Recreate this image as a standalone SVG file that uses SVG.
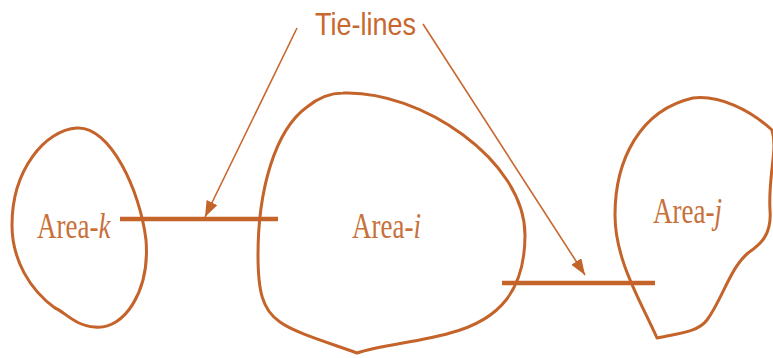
<svg xmlns="http://www.w3.org/2000/svg" width="773" height="358" viewBox="0 0 773 358">
<style>
.blob{fill:none;stroke:#c4632a;stroke-width:3;stroke-linejoin:round}
.tie{stroke:#c4632a;stroke-width:4.5;fill:none}
.lead{stroke:#c8672e;stroke-width:1.6;fill:none}
.lbl{font-family:"Liberation Serif",serif;font-size:27px;fill:#c8703a}
.it{font-style:italic}
.title{font-family:"Liberation Sans",Arial,sans-serif;font-size:27px;fill:#c8672e}
</style>
<defs>
<marker id="ah" markerUnits="userSpaceOnUse" markerWidth="18" markerHeight="12" refX="16" refY="6" orient="auto">
<path d="M0,0 L16,6 L0,12 Z" fill="#c4632a"/>
</marker>
</defs>
<g id="area-k">
<path class="blob" d="M77,128 C110,126 140,190 146,240 C150,290 125,330 95,327 C75,326 65,312 55,308 C30,290 12,260 12,225 C12,170 45,130 77,128 Z"/>
<text class="lbl" transform="translate(37,238) scale(1,1.34)">Area-<tspan class="it">k</tspan></text>
</g>
<g id="area-i">
<path class="blob" d="M343,93 C420,90 525,160 525,235 C525,290 500,320 450,333 C420,342 380,345 357,353 C330,343 295,333 280,322 C262,310 258,290 258,255 C258,190 275,130 307,107 C318,98 330,93 343,93 Z"/>
<text class="lbl" transform="translate(352,238) scale(1,1.34)">Area-<tspan class="it">i</tspan></text>
</g>
<g id="area-j">
<path class="blob" d="M657,338 C640,300 615,260 615,215 C615,160 640,110 693,98 C720,95 750,110 772,130 C778,150 768,175 770,210 C772,235 760,245 748,253 C730,268 722,300 707,320 C698,332 680,333 657,338 Z"/>
<text class="lbl" transform="translate(653,223) scale(1,1.34)">Area-<tspan class="it">j</tspan></text>
</g>
<g id="tie-lines-label">
<text class="title" transform="translate(315,35) scale(1,1.19)">Tie-lines</text>
</g>
<g id="connectors">
<line class="tie" x1="120" y1="219" x2="278" y2="219"/>
<line class="tie" x1="502" y1="283" x2="655" y2="283"/>
<line class="lead" x1="297" y1="28" x2="205" y2="217" marker-end="url(#ah)"/>
<line class="lead" x1="423" y1="24" x2="585" y2="275" marker-end="url(#ah)"/>
</g>
</svg>
